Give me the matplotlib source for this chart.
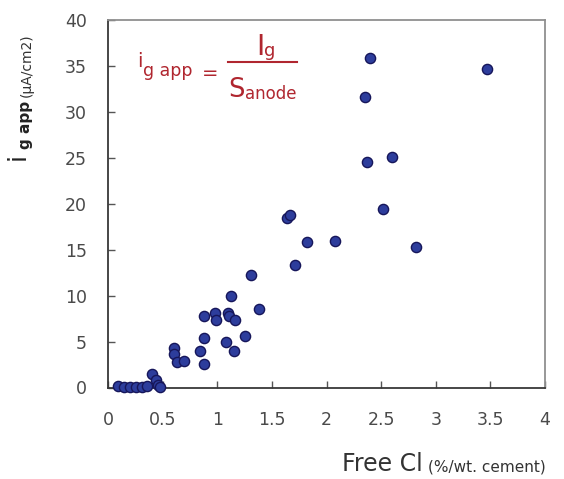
import matplotlib
matplotlib.use("Agg")
import numpy as np
import matplotlib.pyplot as plt
from matplotlib.lines import Line2D

# free chloride (%/wt. cement) vs apparent galvanic current density (uA/cm2)
free_cl = [0.09, 0.15, 0.20, 0.26, 0.31, 0.36, 0.40, 0.44, 0.46, 0.48,
           0.60, 0.60, 0.63, 0.70, 0.84, 0.88, 0.88, 0.88, 0.98, 0.99,
           1.08, 1.10, 1.11, 1.16, 1.15, 1.25, 1.13, 1.31, 1.38,
           1.64, 1.67, 1.71, 1.82, 2.08, 2.35, 2.37, 2.40, 2.52, 2.60,
           2.82, 3.47]
i_g_app = [0.15, 0.05, 0.05, 0.05, 0.10, 0.20, 1.5, 0.8, 0.3, 0.05,
           4.3, 3.6, 2.8, 2.9, 4.0, 2.6, 5.4, 7.75, 8.1, 7.4,
           5.0, 8.1, 7.75, 7.3, 4.0, 5.6, 10.0, 12.2, 8.5,
           18.4, 18.8, 13.3, 15.8, 16.0, 31.6, 24.5, 35.9, 19.4, 25.1,
           15.3, 34.7]

x_ticks = [0, 0.5, 1, 1.5, 2, 2.5, 3, 3.5, 4]
x_tick_labels = ["0", "0.5", "1", "1.5", "2", "2.5", "3", "3.5", "4"]
y_ticks = [0, 5, 10, 15, 20, 25, 30, 35, 40]

plt.rcParams['font.family'] = ['DejaVu Sans']

W, H = 564, 479
fig = plt.figure(figsize=(W / 100, H / 100), dpi=100)
ax = fig.add_axes([108 / W, 1 - 387.5 / H, (545 - 108) / W, (387.5 - 20) / H])

ax.scatter(free_cl, i_g_app, s=54, color='#2d3d9c', edgecolor='#16165a',
           linewidth=1.0, zorder=3, clip_on=False)

ax.set_xlim(0, 4)
ax.set_ylim(0, 40)
ax.set_xticks(x_ticks)
ax.set_xticklabels(x_tick_labels)
ax.set_yticks(y_ticks)
ax.tick_params(axis='both', direction='in', length=5, width=1,
               colors='#555555', labelcolor='#4a4a4a', labelsize=12.5)
ax.tick_params(axis='x', pad=17)
ax.tick_params(axis='y', pad=15)

for side in ['left', 'bottom']:
    ax.spines[side].set_color('#383838')
    ax.spines[side].set_linewidth(1.3)
for side in ['top', 'right']:
    ax.spines[side].set_color('#909090')
    ax.spines[side].set_linewidth(1.3)


def px(x, y):
    return x / W, 1 - y / H


# y axis label built from pieces (rotated)
rot = dict(rotation=90, rotation_mode='anchor', ha='left', va='baseline')
fig.text(*px(25, 160), "i", fontsize=18, color='#222222', **rot)
fig.text(*px(30, 149), "g app", fontsize=11, fontweight='bold',
         color='#222222', **rot)
fig.text(*px(31, 97), "(\u00b5A/cm2)", fontsize=10, color='#333333', **rot)

# x axis label
fig.text(*px(342, 471), "Free Cl", ha='left', va='baseline',
         fontsize=17, color='#333333')
fig.text(*px(428, 471), "(%/wt. cement)", ha='left', va='baseline',
         fontsize=11, color='#333333')

# formula annotation
red = '#b0262f'
fig.text(*px(137, 67), "i", fontsize=14, color=red, ha='left', va='baseline')
fig.text(*px(143, 76), "g app", fontsize=12.5, color=red, ha='left', va='baseline')
fig.text(*px(202, 79), "=", fontsize=14, color=red, ha='left', va='baseline')
fig.text(*px(256, 55), "I", fontsize=20, color=red, ha='left', va='baseline')
fig.text(*px(264, 56), "g", fontsize=13, color=red, ha='left', va='baseline')
fig.add_artist(Line2D([228 / W, 297 / W], [1 - 62 / H, 1 - 62 / H],
                      color=red, lw=1.5))
fig.text(*px(228, 97), "S", fontsize=18.5, color=red, ha='left', va='baseline')
fig.text(*px(245, 99), "anode", fontsize=12, color=red, ha='left', va='baseline')

fig.savefig("out.png", dpi=100)
